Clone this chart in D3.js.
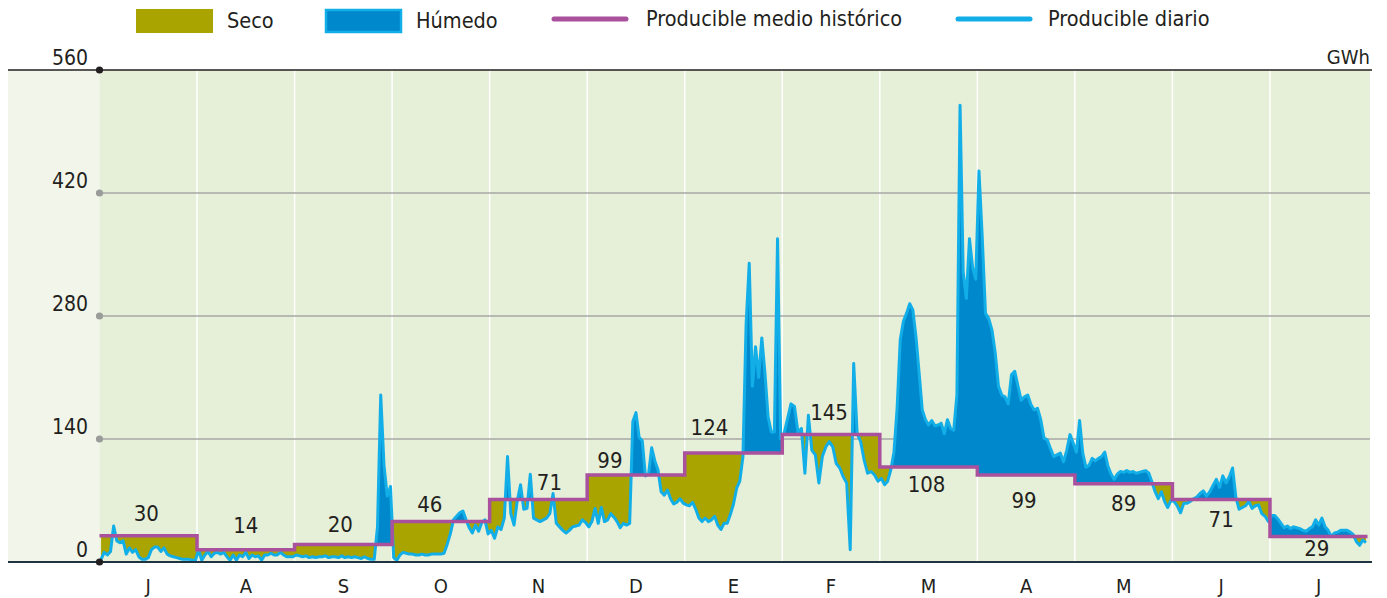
<!DOCTYPE html>
<html>
<head>
<meta charset="utf-8">
<script src="https://cdn.jsdelivr.net/npm/d3@7"></script>
<style>
  body { margin: 0; background: #fff; }
  text { font-family: "Liberation Sans Narrow", "DejaVu Sans Condensed", "Open Sans", sans-serif; fill: #231f20; }
</style>
</head>
<body>
<div id="chart"></div>
<script>
// month initials (Jul .. Jul)
const months = ['J', 'A', 'S', 'O', 'N', 'D', 'E', 'F', 'M', 'A', 'M', 'J', 'J'];
// producible medio historico (GWh)
const historicMean = [30, 14, 20, 46, 71, 99, 124, 145, 108, 99, 89, 71, 29];
const yTicks = [0, 140, 280, 420, 560];

// producible diario (GWh), one value per day
const dailyJul = [3, 11, 8, 12, 41, 24, 22, 24, 9, 16, 11, 14, 6, 3, 3, 5, 14, 17, 17, 12, 16, 9, 7, 6, 5, 4, 3, 3, 3, 2, 2];
const dailyAug = [14, 2, 8, 12, 6, 10, 11, 9, 11, 6, 2, 8, 2, 8, 6, 11, 4, 8, 6, 7, 2, 8, 8, 10, 8, 8, 11, 8, 6, 6, 6];
const dailySep = [8, 7, 6, 7, 5, 6, 5, 6, 6, 7, 5, 6, 6, 5, 7, 5, 6, 5, 6, 5, 4, 6, 4, 3, 3, 40, 190, 110, 75, 86];
const dailyOct = [5, 2, 8, 11, 10, 9, 9, 8, 8, 9, 8, 8, 9, 9, 9, 9, 10, 20, 32, 48, 52, 56, 58, 48, 39, 33, 42, 35, 45, 48, 32];
const dailyNov = [36, 27, 40, 37, 50, 120, 55, 42, 70, 88, 60, 61, 100, 50, 48, 46, 48, 50, 55, 78, 44, 40, 36, 33, 36, 40, 41, 42, 48, 45];
const dailyDec = [40, 46, 61, 44, 62, 46, 48, 55, 51, 46, 39, 44, 42, 44, 160, 170, 142, 138, 98, 100, 130, 115, 105, 80, 76, 82, 72, 66, 68, 72, 67];
const dailyJan = [65, 64, 68, 60, 50, 46, 50, 46, 48, 52, 42, 37, 44, 44, 54, 66, 84, 92, 120, 270, 340, 200, 245, 210, 255, 215, 165, 148, 148, 368, 140];
const dailyFeb = [146, 163, 180, 177, 148, 152, 101, 167, 127, 122, 90, 120, 131, 137, 131, 112, 107, 97, 90, 14, 226, 146, 137, 116, 101, 103, 99, 92];
const dailyMar = [95, 88, 92, 105, 125, 175, 253, 274, 283, 294, 287, 256, 215, 173, 162, 156, 161, 155, 156, 158, 146, 162, 152, 150, 190, 520, 330, 300, 368, 335, 322];
const dailyApr = [445, 370, 283, 277, 264, 238, 200, 190, 188, 180, 213, 217, 200, 184, 188, 190, 179, 173, 175, 162, 141, 139, 129, 120, 122, 124, 114, 127, 145, 135];
const dailyMay = [125, 161, 124, 108, 110, 118, 115, 118, 120, 125, 109, 100, 94, 100, 103, 102, 104, 102, 103, 101, 102, 103, 104, 101, 91, 80, 72, 80, 69, 62, 70];
const dailyJun = [69, 64, 56, 67, 67, 69, 72, 74, 78, 81, 75, 80, 87, 94, 85, 98, 90, 97, 107, 74, 60, 62, 64, 69, 61, 64, 65, 55, 52, 46];
const dailyJul2 = [53, 53, 49, 44, 39, 41, 38, 40, 39, 38, 36, 35, 38, 40, 48, 42, 50, 40, 36, 29, 33, 34, 36, 36, 36, 34, 31, 23, 19, 25, 22];

const dailyByMonth = [dailyJul, dailyAug, dailySep, dailyOct, dailyNov, dailyDec, dailyJan,
                      dailyFeb, dailyMar, dailyApr, dailyMay, dailyJun, dailyJul2];

const svgWidth = 1387;
const svgHeight = 598;

const colors = {
    seco: '#aaa400',
    humedo: '#0088cc',
    diario: '#12aee8',
    medio: '#a9519d',
    plotBg: '#e6efd8',
    sideBg: '#f2f6ea',
    grid: '#a7a9a6'
};

const svg = d3.select('#chart')
    .append('svg')
    .attr('width', svgWidth)
    .attr('height', svgHeight);

const x = d3.scaleBand()
    .domain(d3.range(months.length))
    .range([99.5, 1367.5]);

const y = d3.scaleLinear()
    .domain([0, 560])
    .range([562, 70]);

const bw = x.bandwidth();
const xLeft = x.range()[0];

// flatten daily values into points placed inside each month band
const dailyPoints = [];
dailyByMonth.forEach((arr, m) => {
    arr.forEach((v, i) => {
        dailyPoints.push({ x: x(m) + (i + 0.5) * bw / arr.length, v: v });
    });
});

// step points for the historic mean
const stepPoints = [];
historicMean.forEach((v, m) => {
    stepPoints.push({ x: x(m), v: v });
    stepPoints.push({ x: x(m) + bw, v: v });
});

// backgrounds
svg.append('rect')
    .attr('x', 8).attr('y', y(560))
    .attr('width', xLeft - 8).attr('height', y(0) - y(560))
    .attr('fill', colors.sideBg);

svg.append('rect')
    .attr('x', xLeft).attr('y', y(560))
    .attr('width', 1370 - xLeft).attr('height', y(0) - y(560))
    .attr('fill', colors.plotBg);

// month separators
svg.append('g')
    .selectAll('line')
    .data(d3.range(1, months.length))
    .enter()
    .append('line')
    .attr('x1', d => x(d)).attr('x2', d => x(d))
    .attr('y1', y(560)).attr('y2', y(0))
    .attr('stroke', '#fff')
    .attr('stroke-width', 1.5);

// horizontal grid
svg.append('g')
    .selectAll('line')
    .data(yTicks.filter(d => d > 0 && d < 560))
    .enter()
    .append('line')
    .attr('x1', xLeft).attr('x2', 1370)
    .attr('y1', d => y(d)).attr('y2', d => y(d))
    .attr('stroke', colors.grid)
    .attr('stroke-width', 1.3);

// clip regions above / below the historic mean
const defs = svg.append('defs');
defs.append('clipPath').attr('id', 'clip-above')
    .append('path')
    .attr('d', d3.area().x(d => d.x).y0(0).y1(d => y(d.v))(stepPoints));
defs.append('clipPath').attr('id', 'clip-below')
    .append('path')
    .attr('d', d3.area().x(d => d.x).y0(svgHeight).y1(d => y(d.v))(stepPoints));

// humedo: daily above the mean
svg.append('path')
    .attr('clip-path', 'url(#clip-above)')
    .attr('fill', colors.humedo)
    .attr('d', d3.area().x(d => d.x).y0(y(0)).y1(d => y(d.v))(dailyPoints));

// seco: daily below the mean
svg.append('path')
    .attr('clip-path', 'url(#clip-below)')
    .attr('fill', colors.seco)
    .attr('d', d3.area().x(d => d.x).y0(y(560)).y1(d => y(d.v))(dailyPoints));

// daily line
svg.append('path')
    .attr('fill', 'none')
    .attr('stroke', colors.diario)
    .attr('stroke-width', 3)
    .attr('stroke-linejoin', 'round')
    .attr('d', d3.line().x(d => d.x).y(d => y(d.v))(dailyPoints));

// historic mean step line
svg.append('path')
    .attr('fill', 'none')
    .attr('stroke', colors.medio)
    .attr('stroke-width', 3.5)
    .attr('d', d3.line().x(d => d.x).y(d => y(d.v))(stepPoints));

// top and bottom lines
svg.append('line')
    .attr('x1', 8).attr('x2', 1372)
    .attr('y1', y(560)).attr('y2', y(560))
    .attr('stroke', '#231f20').attr('stroke-width', 1.4);
svg.append('line')
    .attr('x1', 8).attr('x2', 1372)
    .attr('y1', y(0)).attr('y2', y(0))
    .attr('stroke', '#1f3440').attr('stroke-width', 2);

// y axis dots and labels
svg.append('g')
    .selectAll('circle')
    .data(yTicks)
    .enter()
    .append('circle')
    .attr('cx', xLeft).attr('cy', d => y(d))
    .attr('r', 3.6)
    .attr('fill', d => (d === 0 || d === 560) ? '#231f20' : '#9a9c9a');

svg.append('g')
    .selectAll('text')
    .data(yTicks)
    .enter()
    .append('text')
    .attr('x', 88).attr('y', d => y(d) - 5)
    .attr('text-anchor', 'end')
    .style('font-size', '21px')
    .text(d => d);

svg.append('text')
    .attr('x', 1370).attr('y', 64)
    .attr('text-anchor', 'end')
    .style('font-size', '20px')
    .text('GWh');

// month labels
svg.append('g')
    .selectAll('text')
    .data(months)
    .enter()
    .append('text')
    .attr('x', (d, i) => x(i) + bw / 2)
    .attr('y', 593)
    .attr('text-anchor', 'middle')
    .style('font-size', '20px')
    .text(d => d);

// value labels, nudged like the original to avoid the lines
const labelNudge = [[-2, -22], [0, -24], [-3, -20], [-11, -17], [11, -17], [-26, -15], [-24, -26],
                    [-2, -22], [-2, 17], [-2, 25], [0, 19], [0, 20], [-2, 12]];
svg.append('g')
    .selectAll('text')
    .data(historicMean)
    .enter()
    .append('text')
    .attr('x', (d, i) => x(i) + bw / 2 + labelNudge[i][0])
    .attr('y', (d, i) => y(d) + labelNudge[i][1])
    .attr('dy', '0.35em')
    .attr('text-anchor', 'middle')
    .style('font-size', '22px')
    .text(d => d);

// legend
const legend = svg.append('g').style('font-size', '21.5px');
legend.append('rect')
    .attr('x', 136).attr('y', 9).attr('width', 77).attr('height', 24)
    .attr('fill', colors.seco);
legend.append('text').attr('x', 227).attr('y', 28).text('Seco');

legend.append('rect')
    .attr('x', 326).attr('y', 10).attr('width', 75).attr('height', 22)
    .attr('fill', colors.humedo)
    .attr('stroke', colors.diario).attr('stroke-width', 2.5);
legend.append('text').attr('x', 416).attr('y', 28).text('Húmedo');

legend.append('line')
    .attr('x1', 554).attr('x2', 626).attr('y1', 19).attr('y2', 19)
    .attr('stroke', colors.medio).attr('stroke-width', 5).attr('stroke-linecap', 'round');
legend.append('text').attr('x', 646).attr('y', 26).text('Producible medio histórico');

legend.append('line')
    .attr('x1', 958).attr('x2', 1030).attr('y1', 19).attr('y2', 19)
    .attr('stroke', colors.diario).attr('stroke-width', 5).attr('stroke-linecap', 'round');
legend.append('text').attr('x', 1048).attr('y', 26).text('Producible diario');
</script>
</body>
</html>
